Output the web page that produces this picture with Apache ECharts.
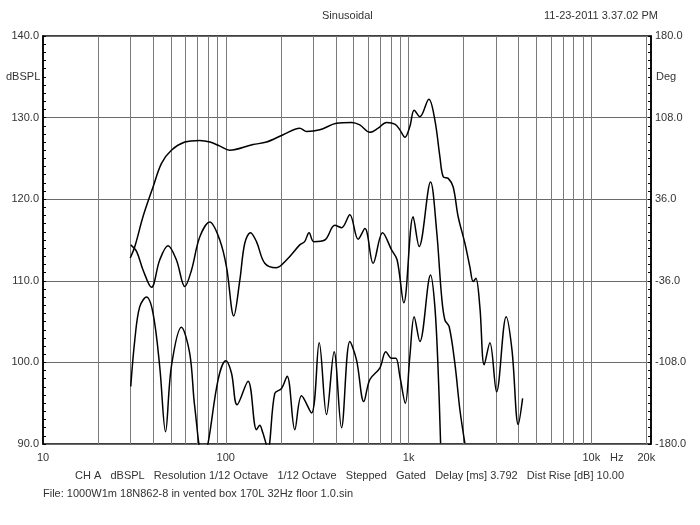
<!DOCTYPE html>
<html>
<head>
<meta charset="utf-8">
<script src="https://cdn.jsdelivr.net/npm/echarts@6/dist/echarts.min.js"></script>
<style>
  html, body { margin: 0; padding: 0; background: #fff; }
  #chart { width: 700px; height: 525px; }
</style>
</head>
<body>
<div id="chart"></div>
<script>
// frequency response: [Hz, dBSPL]
var splCurve = [
    [30, 112.8], [31.8, 114.2], [35.3, 117.9], [40, 121.5], [44.5, 124.4], [50.4, 126.0],
    [59.7, 127.0], [72, 127.2], [82, 127.0], [93, 126.5], [105, 126.0], [141, 126.7],
    [167, 127.0], [206, 127.9], [254, 128.7], [277, 128.3], [327, 128.5], [403, 129.3],
    [488, 129.4], [541, 129.1], [614, 128.2], [682, 128.7], [758, 129.4], [841, 129.2],
    [896, 128.5], [955, 127.6], [1016, 128.9], [1073, 130.9], [1153, 130.1], [1291, 132.25],
    [1393, 129.7], [1484, 125.2], [1547, 122.75], [1648, 122.55], [1754, 121.5], [1868, 117.85],
    [2033, 114.6], [2165, 111.7], [2257, 109.9], [2334, 110.3], [2455, 106.8],
    [2593, 99.7], [2786, 102.4], [3031, 96.4], [3420, 105.6], [3680, 101.5], [3981, 92.4],
    [4207, 95.6]
];

var midCurve = [
    [30.2, 114.4], [32.5, 113.6], [35.3, 111.3], [39.2, 109.2], [43.5, 112.55], [48.3, 114.3],
    [53.7, 112.55], [59.7, 109.3], [64.9, 111.3], [72.1, 115.4], [81.7, 117.2], [92.7, 115.0],
    [100.9, 111.7], [110.6, 105.7], [119.4, 110.1], [127, 114.6], [136.5, 115.9], [147.2, 114.8],
    [163.4, 112.15], [189.2, 111.6], [214.8, 112.55], [254, 114.4], [270, 114.8], [285.6, 115.9],
    [303, 114.8], [348, 115.0], [395, 116.8], [430, 116.5], [477, 118.1], [530, 115.1],
    [577, 116.4], [640, 112.15], [721, 115.9], [807, 113.8], [866, 112.55], [942, 107.3],
    [1059, 117.85], [1143, 114.2], [1319, 122.1], [1423, 116.2], [1516, 108.1], [1580, 105.2],
    [1667, 104.4], [1791, 99.9], [1909, 94.2], [2032, 90.1]
];

var lowCurve = [
    [30.2, 97.05], [31.8, 102.8], [33.8, 106.8], [36.8, 108.0], [40, 106.0], [43.5, 99.5],
    [46.8, 91.5], [50.4, 99.5], [57.2, 104.3], [63.5, 101.1], [67.6, 94.6], [75, 88.0],
    [80, 90.1], [90.8, 97.9], [100, 100.2], [107.4, 98.7], [115.3, 94.8], [132.4, 97.7],
    [147.2, 91.75], [153.5, 92.3], [158.8, 91.5], [170, 89.5], [185.4, 96.2], [201.8, 96.8],
    [216.6, 98.3], [238.6, 91.75], [259.7, 95.9], [294.5, 93.8], [324.4, 102.4], [355.7, 93.6],
    [391.5, 101.3], [429.7, 92.0], [477.4, 102.55], [519, 100.3], [569, 95.2], [614, 97.9],
    [696, 99.3], [751, 101.3], [807, 100.5], [852, 100.5], [896, 98.3], [960, 95.0],
    [1016, 100.7], [1073, 105.6], [1153, 102.55], [1319, 110.7], [1393, 106.8], [1451, 99.1],
    [1497, 90.1]
];

var freqLabels = [10, 100, 1000, 10000, 20000];
var freqGrid = [20, 30, 40, 50, 60, 70, 80, 90, 100, 200, 300, 400, 500, 600, 700, 800, 900,
    1000, 2000, 3000, 4000, 5000, 6000, 7000, 8000, 9000, 10000, 20000];

var chart = echarts.init(document.getElementById('chart'));

var font = 'Liberation Sans, Arial, sans-serif';
var txtColor = '#333';

function curve(data) {
    return {
        type: 'line',
        data: data,
        yAxisIndex: 0,
        showSymbol: false,
        smooth: 0.35,
        lineStyle: { color: '#000', width: 1.5 },
        z: 3,
        silent: true
    };
}

chart.setOption({
    animation: false,
    backgroundColor: '#fff',
    grid: {
        left: 43, right: 49, top: 36, bottom: 81,
        show: true, borderColor: '#000', borderWidth: 1.5
    },
    xAxis: {
        type: 'log',
        logBase: 10,
        min: 10,
        max: 21200,
        axisLine: { show: false },
        axisTick: { show: false, customValues: freqGrid },
        axisLabel: {
            customValues: freqLabels,
            color: txtColor, fontFamily: font, fontSize: 11, margin: 8,
            formatter: function (v) { return v >= 1000 ? (v / 1000) + 'k' : String(v); }
        },
        splitLine: { show: true, lineStyle: { color: '#7a7a7a', width: 1 } }
    },
    yAxis: [
        {
            type: 'value', min: 90, max: 140, interval: 10,
            axisLine: { show: true, lineStyle: { color: '#000', width: 1.5 } },
            axisTick: { show: true, inside: true, length: 3, lineStyle: { color: '#000' } },
            minorTick: { show: true, splitNumber: 10, length: 3, lineStyle: { color: '#000' } },
            axisLabel: {
                color: txtColor, fontFamily: font, fontSize: 11, margin: 4,
                formatter: function (v) { return v.toFixed(1); }
            },
            splitLine: { show: true, lineStyle: { color: '#6a6a6a', width: 1 } }
        },
        {
            type: 'value', min: -180, max: 180, interval: 72, position: 'right',
            axisLine: { show: true, lineStyle: { color: '#000', width: 1.5 } },
            axisTick: { show: true, inside: true, length: 3, lineStyle: { color: '#000' } },
            minorTick: { show: true, splitNumber: 10, length: 3, lineStyle: { color: '#000' } },
            axisLabel: {
                color: txtColor, fontFamily: font, fontSize: 11, margin: 4,
                formatter: function (v) { return v.toFixed(1); }
            },
            splitLine: { show: false }
        }
    ],
    series: [curve(splCurve), curve(midCurve), curve(lowCurve)],
    graphic: [
        { type: 'text', left: 322, top: 10, style: { text: 'Sinusoidal', font: '11px ' + font, fill: txtColor } },
        { type: 'text', right: 42, top: 10, style: { text: '11-23-2011 3.37.02 PM', font: '11px ' + font, fill: txtColor } },
        { type: 'text', left: 6, top: 71, style: { text: 'dBSPL', font: '11px ' + font, fill: txtColor } },
        { type: 'text', left: 656, top: 71, style: { text: 'Deg', font: '11px ' + font, fill: txtColor } },
        { type: 'text', left: 610, top: 452, style: { text: 'Hz', font: '11px ' + font, fill: txtColor } },
        { type: 'text', left: 75, top: 470, style: {
            text: 'CH A   dBSPL   Resolution 1/12 Octave   1/12 Octave   Stepped   Gated   Delay [ms] 3.792   Dist Rise [dB] 10.00',
            font: '11px ' + font, fill: txtColor } },
        { type: 'text', left: 43, top: 488, style: {
            text: 'File: 1000W1m 18N862-8 in vented box 170L 32Hz floor 1.0.sin',
            font: '11px ' + font, fill: txtColor } }
    ]
});
</script>
</body>
</html>
